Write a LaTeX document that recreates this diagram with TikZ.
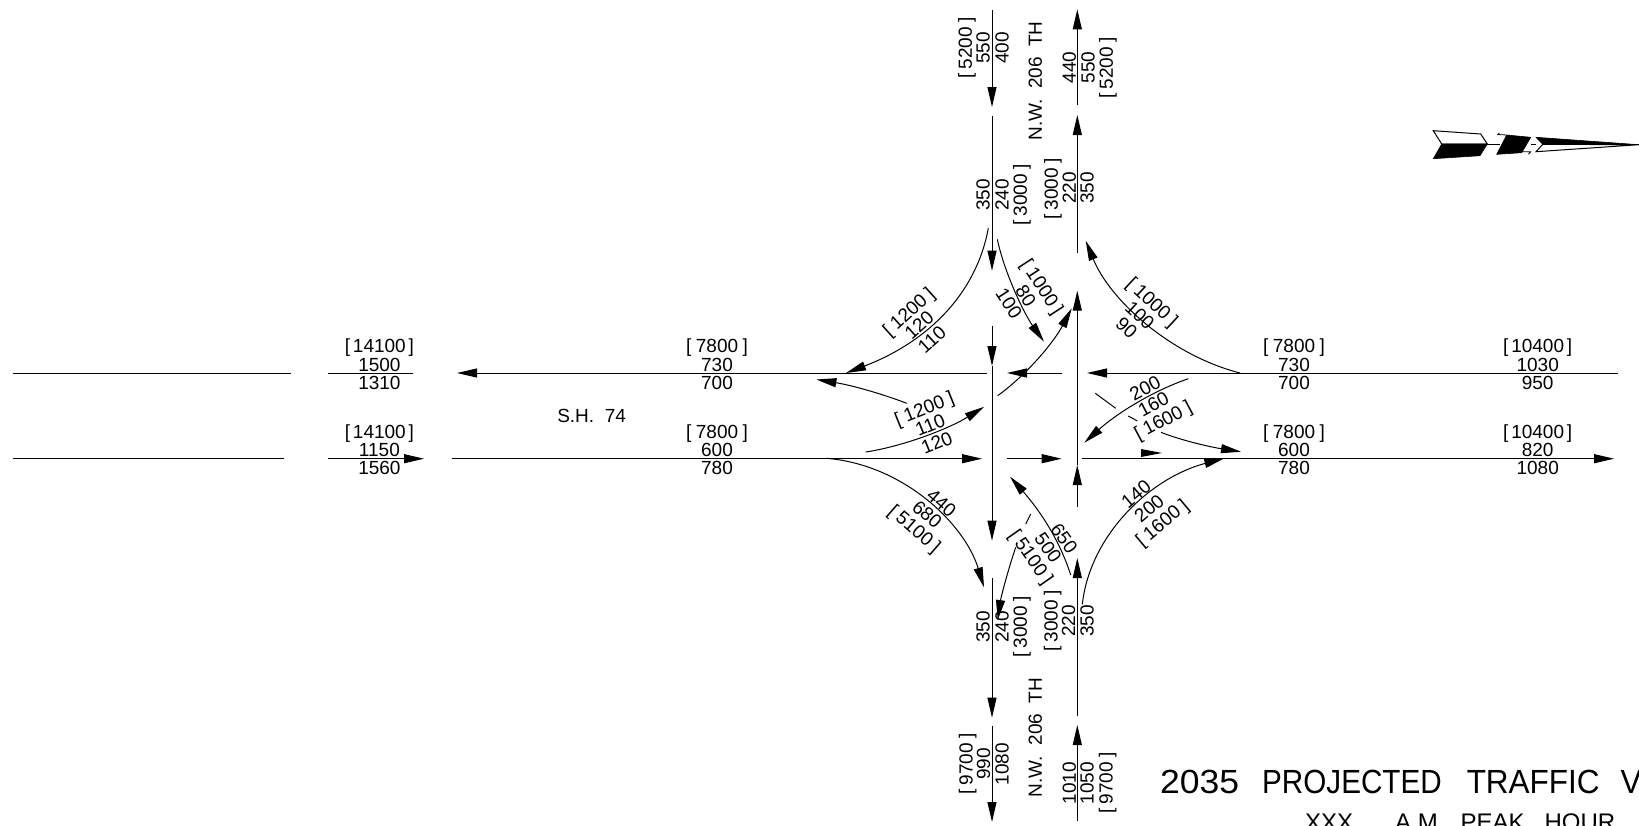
\documentclass[tikz,border=0pt]{standalone}
\usepackage{fontspec}
\setmainfont{Liberation Sans}
\newfontfamily\ttlfont[FakeStretch=0.94]{Liberation Sans}
\newfontfamily\prjfont[FakeStretch=0.885]{Liberation Sans}
\newfontfamily\digfont[FakeStretch=1.06]{Liberation Sans}
\usetikzlibrary{arrows.meta}
\newcounter{lblc}
\newcommand{\brk}[1]{[\kern.24em#1\kern.24em]}
\newcommand{\brkk}[1]{[\kern.15em#1\kern.15em]}
% \lbl{x}{y}{angle}{text}
\newcommand{\lbl}[4]{\stepcounter{lblc}\node[lab,rotate=#3] (L\arabic{lblc}) at (#1,#2) {#4};}
\tikzset{
  lab/.style={inner sep=0pt,font=\fontsize{19}{19}\selectfont,text height=13.6pt,text depth=0pt},
  road/.style={line width=1pt,black},
  flow/.style={line width=1pt,black,-{Triangle[length=20pt,width=9pt]}},
}
\begin{document}
\begin{tikzpicture}[x=1pt,y=-1pt]
\clip (0,0) rectangle (1639,825);
\fill[white] (0,0) rectangle (1639,825);
% horizontal roads north
\draw[road] (12.5,373) -- (290.6,373);
\draw[road] (328,373) -- (413,373);
\draw[flow] (986.7,373) -- (457,373);
\draw[flow] (1061.7,373) -- (1007,373);
\draw[flow] (1618,373) -- (1087,373);
% horizontal roads south
\draw[road] (12.5,458.7) -- (284,458.7);
\draw[flow] (328,458.7) -- (424,458.7);
\draw[flow] (451.6,458.7) -- (982,458.7);
\draw[flow] (1007,458.7) -- (1061.7,458.7);
\draw[flow] (1082,458.7) -- (1614,458.7);
\fill (1141,449) -- (1162,453) -- (1141,457) -- cycle;
% west vertical
\draw[flow] (992,10) -- (992,107);
\draw[flow] (992,116) -- (992,270.7);
\draw[flow] (992,326) -- (992,366);
\draw[flow] (992,366) -- (992,540.7);
\draw[flow] (992,578) -- (992,717.7);
\draw[flow] (992,726) -- (992,822);
% east vertical
\draw[flow] (1077.3,105) -- (1077.3,9.3);
\draw[flow] (1077.3,253) -- (1077.3,115);
\draw[flow] (1077.3,506.7) -- (1077.3,465);
\draw[flow] (1077.3,465) -- (1077.3,290.7);
\draw[flow] (1077.3,716) -- (1077.3,558);
\draw[flow] (1077.3,821) -- (1077.3,725);
% turning curves
\draw[flow] (988.3,228.3) .. controls (975,300) and (920,345) .. (846,373);
\draw[flow] (1240,373) .. controls (1170,355) and (1110,300) .. (1085.7,240.7);
\draw[flow] (997.3,239.3) .. controls (1005,275) and (1025,315) .. (1044,341.7);
\draw[flow] (997.7,395.7) .. controls (1030,372) and (1055,340) .. (1071.7,308.3);
\draw[flow] (906.7,403.3) .. controls (880,393) and (850,385) .. (816.4,379.5);
\draw[flow] (865.7,452) .. controls (905,446) and (950,428) .. (984.3,406.7);
\draw[flow] (1188.3,378.7) .. controls (1150,392) and (1115,415) .. (1084.3,442.7);
\draw[road] (1095.3,393.3) -- (1115.7,408.3);
\draw[road] (1128.3,416) -- (1137.3,421);
\draw[flow] (1161,432.3) .. controls (1180,440) and (1210,447) .. (1241,451.7);
\draw[flow] (1082.3,604.3) .. controls (1090,535) and (1150,478) .. (1224.3,458.3);
\draw[flow] (826.7,458.3) .. controls (905,465) and (965,525) .. (984,587.3);
\draw[flow] (1070.7,575) .. controls (1058,535) and (1035,505) .. (1010,476.7);
\draw[road] (1030.7,514) -- (1025.7,524);
\draw[flow] (1015.7,547.3) .. controls (1008,570) and (1001,597) .. (997.7,620);
% horizontal labels
\lbl{379.4}{346}{0}{\brkk{14100}}
\lbl{379.4}{365}{0}{1500}
\lbl{379.4}{382.6}{0}{1310}
\lbl{379.4}{431.7}{0}{\brkk{14100}}
\lbl{379.4}{449.5}{0}{1150}
\lbl{379.4}{468}{0}{1560}
\lbl{717}{346}{0}{\brk{7800}}
\lbl{717}{365}{0}{730}
\lbl{717}{382.6}{0}{700}
\lbl{717}{431.7}{0}{\brk{7800}}
\lbl{717}{449.5}{0}{600}
\lbl{717}{468}{0}{780}
\lbl{1294}{346}{0}{\brk{7800}}
\lbl{1294}{365}{0}{730}
\lbl{1294}{382.6}{0}{700}
\lbl{1294}{431.7}{0}{\brk{7800}}
\lbl{1294}{449.5}{0}{600}
\lbl{1294}{468}{0}{780}
\lbl{1537.7}{346}{0}{\brkk{10400}}
\lbl{1537.7}{365}{0}{1030}
\lbl{1537.7}{382.6}{0}{950}
\lbl{1537.7}{431.7}{0}{\brkk{10400}}
\lbl{1537.7}{449.5}{0}{820}
\lbl{1537.7}{468}{0}{1080}
\lbl{591.6}{416}{0}{S.H.\ \ 74}
% vertical labels top
\lbl{965}{48}{90}{\brk{5200}}
\lbl{982.7}{48}{90}{550}
\lbl{1001.7}{48}{90}{400}
\lbl{1035}{81}{90}{N.W.\ \ 206\ \ TH}
\lbl{1069}{67.5}{90}{440}
\lbl{1087.7}{67.5}{90}{550}
\lbl{1106}{68}{90}{\brk{5200}}
\lbl{982.7}{195}{90}{350}
\lbl{1001.7}{195}{90}{240}
\lbl{1020}{195}{90}{\brk{3000}}
\lbl{1051}{189}{90}{\brk{3000}}
\lbl{1069}{188}{90}{220}
\lbl{1086.7}{188}{90}{350}
% vertical labels bottom
\lbl{982.7}{627}{90}{350}
\lbl{1001.7}{627}{90}{240}
\lbl{1020}{627}{90}{\brk{3000}}
\lbl{1050.7}{621}{90}{\brk{3000}}
\lbl{1068.3}{621}{90}{220}
\lbl{1086.7}{621}{90}{350}
\lbl{965.7}{764}{90}{\brk{9700}}
\lbl{983.3}{764}{90}{990}
\lbl{1001.7}{764}{90}{1080}
\lbl{1035}{737.5}{90}{N.W.\ \ 206\ \ TH}
\lbl{1069}{783}{90}{1010}
\lbl{1086.7}{783}{90}{1050}
\lbl{1105.7}{783}{90}{\brk{9700}}
% diagonal labels
\lbl{908.3}{311.7}{42}{\brk{1200}}
\lbl{919}{325}{42}{120}
\lbl{931.7}{339.3}{42}{110}
\lbl{1042.7}{286.7}{-57}{\brk{1000}}
\lbl{1026}{296}{-57}{80}
\lbl{1009.3}{303.3}{-57}{100}
\lbl{1152.7}{301.7}{-43}{\brk{1000}}
\lbl{1140}{315}{-43}{100}
\lbl{1126.7}{327.3}{-43}{90}
\lbl{924}{408.3}{22}{\brk{1200}}
\lbl{930}{425}{22}{110}
\lbl{936.7}{442.7}{22}{120}
\lbl{1145}{388.3}{28}{200}
\lbl{1153.3}{404.3}{28}{160}
\lbl{1162.7}{420}{28}{\brk{1600}}
\lbl{941.7}{502.7}{-41}{440}
\lbl{927.3}{514.3}{-41}{680}
\lbl{915}{528.3}{-41}{\brk{5100}}
\lbl{1064.3}{538.3}{-55}{650}
\lbl{1048.3}{547.7}{-55}{500}
\lbl{1031.7}{556.7}{-55}{\brk{5100}}
\lbl{1136}{494}{40}{140}
\lbl{1149}{508.3}{40}{200}
\lbl{1161.7}{522.3}{40}{\brk{1600}}
% north arrow
\draw[line width=1pt,fill=white] (1433.3,130.7) -- (1480.7,134) -- (1487.3,144) -- (1441.7,144) -- cycle;
\fill[draw=black,line width=.6pt] (1441.7,144) -- (1487.3,144) -- (1480,155.7) -- (1433.3,158.7) -- cycle;
\draw[line width=1pt] (1487.3,144.3) -- (1500,144.3);
\fill[draw=black,line width=.6pt] (1506.7,135) -- (1530.7,137.3) -- (1521.7,152.7) -- (1496.7,154.3) -- cycle;
\draw[line width=.8pt] (1497.3,135) -- (1499.3,133) (1497.3,134.5) -- (1506.7,135);
\draw[line width=.8pt] (1521.7,151.7) -- (1530.7,151.7) -- (1528.3,154.3);
\draw[line width=1pt] (1530.7,144.3) -- (1536,144.3);
\fill[draw=black,line width=.6pt] (1536,137.3) -- (1639,144.7) -- (1542.7,144.3) -- cycle;
\draw[line width=1pt,fill=white] (1542.7,144.3) -- (1536,151.7) -- (1639,144.7) -- cycle;
% titles
\node[inner sep=0pt,anchor=base west,font=\fontsize{33.5}{34}\selectfont] (T1) at (1160,793.3)
  {{\digfont 2035}\hspace{23pt}{\prjfont PROJECTED}\hspace{25pt}{\ttlfont TRAFFIC}\hspace{21pt}{\ttlfont VO}};
\node[inner sep=0pt,anchor=base west,font=\fontsize{24}{24}\selectfont] (T2) at (1305,830)
  {XXX\hspace{42pt}A.M.\hspace{16pt}PEAK\hspace{20pt}HOUR};
\end{tikzpicture}
\end{document}
